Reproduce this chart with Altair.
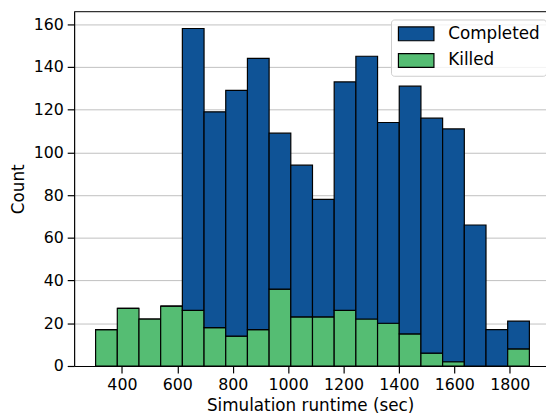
import altair as alt
import pandas as pd

bin_edges = [305.0, 383.3, 461.6, 539.9, 618.2, 696.5, 774.8, 853.1, 931.4, 1009.7,
             1088.0, 1166.3, 1244.6, 1322.9, 1401.2, 1479.5, 1557.8, 1636.1, 1714.4,
             1792.7, 1871.0]
killed = [17, 27, 22, 28, 26, 18, 14, 17, 36, 23, 23, 26, 22, 20, 15, 6, 2, 0, 0, 8]
total = [17, 27, 22, 28, 158, 119, 129, 144, 109, 94, 78, 133, 145, 114, 131, 116, 111, 66, 17, 21]
series = ["Completed", "Killed"]
colors = ["#0f5396", "#55bd73"]
x_ticks = [400, 600, 800, 1000, 1200, 1400, 1600, 1800]
y_ticks = [0, 20, 40, 60, 80, 100, 120, 140, 160]

rows = []
for i in range(len(killed)):
    rows.append({"start": bin_edges[i], "end": bin_edges[i + 1], "series": "Killed",
                 "y0": 0, "y1": killed[i]})
    rows.append({"start": bin_edges[i], "end": bin_edges[i + 1], "series": "Completed",
                 "y0": killed[i], "y1": total[i]})
df = pd.DataFrame(rows)

FONT = "DejaVu Sans"
W, H = 478, 359

bars = alt.Chart(df).mark_rect(stroke="black", strokeWidth=1.2, opacity=1).encode(
    x=alt.X("start:Q", scale=alt.Scale(domain=[227.5, 1931], nice=False, zero=False),
            axis=alt.Axis(values=x_ticks, title="Simulation runtime (sec)", grid=False,
                          format="d")),
    x2="end:Q",
    y=alt.Y("y1:Q", scale=alt.Scale(domain=[0, 165.9], nice=False),
            axis=alt.Axis(values=y_ticks, title="Count", grid=True, format="d")),
    y2="y0:Q",
    color=alt.Color("series:N", scale=alt.Scale(domain=series, range=colors),
                    legend=alt.Legend(title=None, orient="none", legendX=321, legendY=8,
                                      symbolType="M-1,-1H4.14V1H-1Z", symbolSize=196,
                                      symbolStrokeColor="black", symbolStrokeWidth=1.2,
                                      symbolOpacity=1,
                                      labelFont=FONT, labelFontSize=17, labelColor="black",
                                      labelOffset=35, padding=6, rowPadding=8,
                                      strokeColor="#cccccc", fillColor="rgba(255,255,255,0.8)",
                                      cornerRadius=3)),
)

top = alt.Chart(pd.DataFrame({"a": [0]})).mark_rule(color="#333333", strokeWidth=1.2).encode(
    x=alt.value(0), x2=alt.value(W), y=alt.value(0)
)

chart = alt.layer(bars, top).properties(
    width=W, height=H,
    autosize=alt.AutoSizeParams(type="none"),
    padding={"left": 67, "top": 1, "right": 0, "bottom": 47},
).configure_view(stroke=None).configure_axis(
    labelFont=FONT, labelFontSize=16, labelColor="black",
    titleFont=FONT, titleFontSize=17, titleColor="black", titleFontWeight="normal",
    domainColor="black", domainWidth=1.2, tickColor="black", tickSize=7, tickWidth=1.2,
    gridColor="#b0b0b0", gridWidth=0.8, labelPadding=4,
).configure_axisY(titlePadding=6).configure_axisX(titlePadding=5)

chart.save("out.html", embed_options={"renderer": "svg", "actions": False})
